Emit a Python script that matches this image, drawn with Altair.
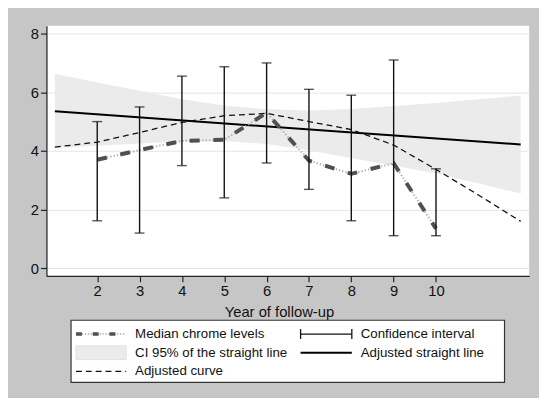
import altair as alt
import pandas as pd

# ---- data ----
years = [2, 3, 4, 5, 6, 7, 8, 9, 10]
median_levels = [3.7, 4.03, 4.34, 4.38, 5.3, 3.67, 3.22, 3.58, 1.35]
ci_low = [1.62, 1.2, 3.5, 2.4, 3.59, 2.69, 1.62, 1.11, 1.11]
ci_high = [5.0, 5.5, 6.55, 6.87, 7.0, 6.1, 5.9, 7.1, 3.39]

line_x = [1, 12]
line_y = [5.35, 4.22]

curve_x = [1, 2, 3, 4, 5, 6, 7, 8, 9, 10, 11, 12]
curve_y = [4.13, 4.3, 4.63, 4.97, 5.2, 5.28, 5.0, 4.73, 4.2, 3.37, 2.5, 1.6]

band_x = [1, 2, 3, 4, 5, 6, 7, 8, 9, 10, 11, 12]
band_hi = [6.63, 6.33, 6.05, 5.76, 5.55, 5.42, 5.38, 5.43, 5.53, 5.63, 5.76, 5.89]
band_lo = [4.10, 4.18, 4.25, 4.32, 4.33, 4.24, 4.02, 3.75, 3.50, 3.23, 2.90, 2.55]

x_ticks = [2, 3, 4, 5, 6, 7, 8, 9, 10]
y_ticks = [0, 2, 4, 6, 8]

legend_labels = ["Median chrome levels", "CI 95% of the straight line", "Adjusted curve",
                 "Confidence interval", "Adjusted straight line"]

FONT = "Liberation Sans"
W, H = 490, 254

med_df = pd.DataFrame({"year": years, "median": median_levels})
ci_df = pd.DataFrame({"year": years, "lo": ci_low, "hi": ci_high})
line_df = pd.DataFrame({"x": line_x, "y": line_y})
curve_df = pd.DataFrame({"x": curve_x, "y": curve_y})
band_df = pd.DataFrame({"x": band_x, "lo": band_lo, "hi": band_hi})

xscale = alt.Scale(domain=[0.8, 12.2], nice=False, zero=False)
yscale = alt.Scale(domain=[-0.26, 8.27], nice=False, zero=False)

xaxis = alt.Axis(values=x_ticks, title="Year of follow-up", grid=False,
                 labelFont=FONT, labelFontSize=15, labelColor="#111",
                 titleFont=FONT, titleFontSize=15, titleFontWeight="normal", titleColor="#111",
                 titleX=236, titleY=36, titleAlign="center", titleBaseline="middle",
                 tickSize=6, tickColor="#222", domainColor="#222",
                 domainWidth=1.3, tickWidth=1.2, labelPadding=2)
yaxis = alt.Axis(values=y_ticks, title=None, grid=True, gridColor="#dce8ec", gridWidth=1,
                 labelFont=FONT, labelFontSize=15, labelColor="#111",
                 tickSize=6, tickColor="#222", domainColor="#222", domainWidth=1.3,
                 tickWidth=1.2, labelPadding=2)

band = alt.Chart(band_df).mark_area(color="#ebebeb", opacity=1).encode(
    x=alt.X("x:Q", scale=xscale, axis=xaxis),
    y=alt.Y("lo:Q", scale=yscale, axis=yaxis),
    y2="hi:Q",
)

straight = alt.Chart(line_df).mark_line(color="black", strokeWidth=2).encode(
    x=alt.X("x:Q", scale=xscale), y=alt.Y("y:Q", scale=yscale))

curve = alt.Chart(curve_df).mark_line(color="#111", strokeWidth=1.3, strokeDash=[6, 4]).encode(
    x=alt.X("x:Q", scale=xscale), y=alt.Y("y:Q", scale=yscale))

med_dots = alt.Chart(med_df).mark_line(color="#a8a8a8", strokeWidth=2, strokeDash=[1.2, 2.2]).encode(
    x=alt.X("year:Q", scale=xscale), y=alt.Y("median:Q", scale=yscale))
med_dash = alt.Chart(med_df).mark_line(color="#505050", strokeWidth=4, strokeDash=[10, 14]).encode(
    x=alt.X("year:Q", scale=xscale), y=alt.Y("median:Q", scale=yscale))

ci_rule = alt.Chart(ci_df).mark_rule(color="#111", strokeWidth=1.4).encode(
    x=alt.X("year:Q", scale=xscale), y=alt.Y("lo:Q", scale=yscale), y2="hi:Q")
ci_cap_hi = alt.Chart(ci_df).mark_tick(color="#111", orient="horizontal", size=10, thickness=1.4).encode(
    x=alt.X("year:Q", scale=xscale), y=alt.Y("hi:Q", scale=yscale))
ci_cap_lo = alt.Chart(ci_df).mark_tick(color="#111", orient="horizontal", size=10, thickness=1.4).encode(
    x=alt.X("year:Q", scale=xscale), y=alt.Y("lo:Q", scale=yscale))

# ---- legend (drawn below the plot area) ----
bx0, bx1, by0, by1 = 25, 465, 299, 362
rows = [313, 332, 351]
c1s, c1e, c1t = 30, 81, 90
c2s, c2e, c2t = 258, 310, 319

legend_box = alt.Chart().mark_rect(fill="white", stroke="#333", strokeWidth=1.2).encode(
    x=alt.value(bx0), x2=alt.value(bx1), y=alt.value(by0), y2=alt.value(by1))

def lrule(x0, x1, y0, y1, **kw):
    return alt.Chart().mark_rule(**kw).encode(
        x=alt.value(x0), x2=alt.value(x1), y=alt.value(y0), y2=alt.value(y1))

leg_med_dots = lrule(c1s, c1e, rows[0], rows[0], color="#a8a8a8", strokeWidth=2, strokeDash=[1, 2])
leg_med_dash = lrule(c1s, c1e, rows[0], rows[0], color="#505050", strokeWidth=3.5, strokeDash=[6, 11])
leg_band = alt.Chart().mark_rect(fill="#ebebeb", stroke="#dddddd", strokeWidth=0.8).encode(
    x=alt.value(c1s), x2=alt.value(c1e), y=alt.value(rows[1] - 7), y2=alt.value(rows[1] + 7))
leg_curve = lrule(c1s, c1e, rows[2], rows[2], color="#111", strokeWidth=1.3, strokeDash=[6, 4])
leg_ci = lrule(c2s, c2e, rows[0], rows[0], color="#111", strokeWidth=1.3)
leg_ci_c1 = lrule(c2s, c2s, rows[0] - 5, rows[0] + 5, color="#111", strokeWidth=1.3)
leg_ci_c2 = lrule(c2e, c2e, rows[0] - 5, rows[0] + 5, color="#111", strokeWidth=1.3)
leg_line = lrule(c2s, c2e, rows[1], rows[1], color="black", strokeWidth=2)

def ltext(txt, x, y):
    return alt.Chart().mark_text(text=txt, align="left", baseline="middle", font=FONT,
                                 fontSize=13.5, color="#111").encode(
        x=alt.value(x), y=alt.value(y))

leg_texts = [
    ltext(legend_labels[0], c1t, rows[0]),
    ltext(legend_labels[1], c1t, rows[1]),
    ltext(legend_labels[2], c1t, rows[2]),
    ltext(legend_labels[3], c2t, rows[0]),
    ltext(legend_labels[4], c2t, rows[1]),
]

chart = alt.layer(
    band, straight, curve, med_dots, med_dash, ci_rule, ci_cap_hi, ci_cap_lo,
    legend_box, leg_med_dots, leg_med_dash, leg_band, leg_curve,
    leg_ci, leg_ci_c1, leg_ci_c2, leg_line, *leg_texts,
).properties(
    width=W, height=H,
    background="#c6c6c6",
    padding={"left": 39, "top": 15, "right": 10, "bottom": 121},
    autosize=alt.AutoSizeParams(type="none"),
).configure_view(fill="white", strokeWidth=0)

chart.save("out.html", embed_options={"renderer": "svg", "actions": False})
